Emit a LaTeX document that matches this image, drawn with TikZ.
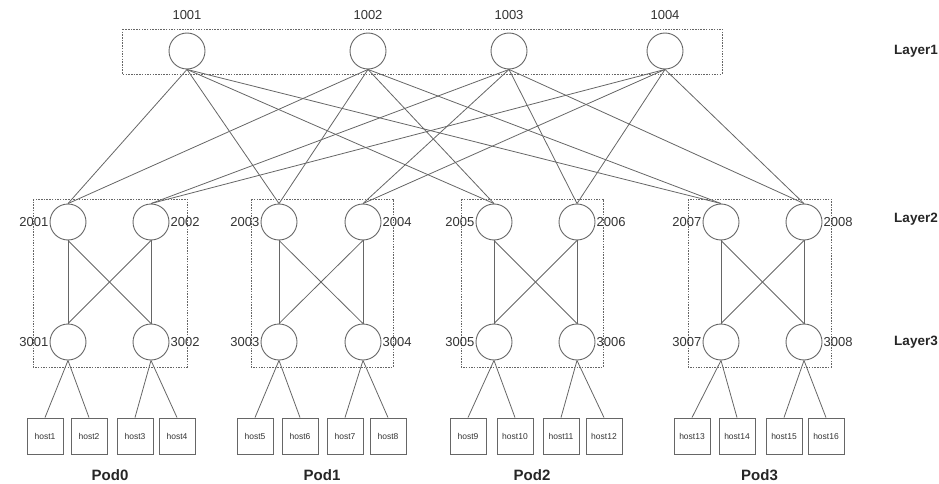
\documentclass[tikz,border=0pt]{standalone}
\usepackage{fontspec}
\setmainfont{Liberation Sans}
\definecolor{linegray}{HTML}{666666}
\definecolor{txtgray}{HTML}{333333}
\begin{document}
\begin{tikzpicture}[x=1pt, y=-1pt,
    sw/.style={circle, draw=linegray, line width=0.9pt, minimum size=36pt, inner sep=0pt},
    hostbox/.style={rectangle, draw=linegray, line width=0.9pt, minimum size=36pt, inner sep=0pt,
      text=txtgray, font=\fontsize{8.5}{10}\selectfont},
    numlbl/.style={text=txtgray, font=\fontsize{13}{15}\selectfont, inner sep=1pt, label distance=0pt},
    layerlbl/.style={text=black!85, font=\fontsize{13.5}{16}\bfseries},
    podlbl/.style={text=black!85, font=\fontsize{15}{18}\bfseries},
    groupbox/.style={draw=linegray, line width=0.8pt, dash pattern=on 1.5pt off 1.2pt},
    link/.style={draw=linegray, line width=0.8pt}]

    \useasboundingbox (0,0) rectangle (939,484);

    % layer boxes
    \draw[groupbox] (122,29) rectangle (722,74);

    % core switches
    \foreach \i/\x in {1/187, 2/368, 3/509, 4/665} {
        \pgfmathtruncatemacro\num{1000+\i}
        \node[sw] (c\i) at (\x,51) {};
        \node[numlbl] (lc\i) at (\x,15) {\num};
    }

    % pods: aggregation and edge switches
    \foreach \i/\xl/\xr/\bl/\br in {1/68/151/33/187, 2/279/363/251/393, 3/494/577/461/603, 4/721/804/688/831} {
        \pgfmathtruncatemacro\na{2*\i-1}
        \pgfmathtruncatemacro\nb{2*\i}
        \pgfmathtruncatemacro\pod{\i-1}
        \draw[groupbox] (\bl,199) rectangle (\br,367);
        \node[sw, label={[numlbl]left:\the\numexpr2000+\na\relax}] (a\na) at (\xl,222) {};
        \node[sw, label={[numlbl]right:\the\numexpr2000+\nb\relax}] (a\nb) at (\xr,222) {};
        \node[sw, label={[numlbl]left:\the\numexpr3000+\na\relax}] (e\na) at (\xl,342) {};
        \node[sw, label={[numlbl]right:\the\numexpr3000+\nb\relax}] (e\nb) at (\xr,342) {};
        \node[podlbl] (pod\pod) at ({(\bl+\br)/2},475) {Pod\pod};
    }

    % hosts
    \foreach \h/\x/\e in {1/45/1, 2/89/1, 3/135/2, 4/177/2, 5/255/3, 6/300/3, 7/345/4, 8/388/4,
                          9/468/5, 10/515/5, 11/561/6, 12/604/6, 13/692/7, 14/737/7, 15/784/8, 16/826/8} {
        \node[hostbox] (h\h) at (\x,436) {host\h};
        \draw[link] (e\e.south) -- (h\h.north);
    }

    % core to aggregation links
    \foreach \c in {1,2}
        \foreach \a in {1,3,5,7}
            \draw[link] (c\c.south) -- (a\a.north);
    \foreach \c in {3,4}
        \foreach \a in {2,4,6,8}
            \draw[link] (c\c.south) -- (a\a.north);

    % aggregation to edge links
    \foreach \i in {1,3,5,7} {
        \pgfmathtruncatemacro\j{\i+1}
        \draw[link] (a\i.south) -- (e\i.north);
        \draw[link] (a\i.south) -- (e\j.north);
        \draw[link] (a\j.south) -- (e\i.north);
        \draw[link] (a\j.south) -- (e\j.north);
    }

    % layer labels
    \node[layerlbl] (layer1) at (916,51) {Layer1};
    \node[layerlbl] (layer2) at (916,219) {Layer2};
    \node[layerlbl] (layer3) at (916,342) {Layer3};

\end{tikzpicture}
\end{document}
